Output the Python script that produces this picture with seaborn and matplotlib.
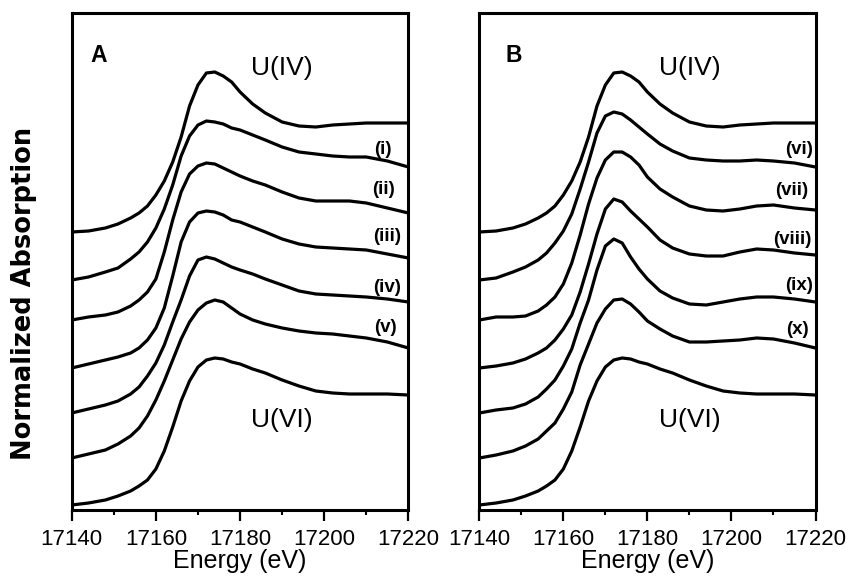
import numpy as np
import pandas as pd
import matplotlib
matplotlib.use("Agg")
import matplotlib.pyplot as plt
import seaborn as sns
from matplotlib.ticker import MultipleLocator

# ---------------- data ----------------
energy = [17140, 17144, 17148, 17151, 17154, 17156, 17158, 17160, 17162, 17164,
          17166, 17168, 17170, 17172, 17174, 17176, 17178, 17180, 17183, 17186,
          17190, 17194, 17198, 17202, 17206, 17210, 17215, 17220]

# stacked normalized spectra (vertical offset included), arbitrary units
u_iv = [2.78, 2.79, 2.82, 2.86, 2.92, 2.97, 3.04, 3.15, 3.29, 3.48, 3.73, 4.04, 4.25, 4.37,
        4.38, 4.34, 4.28, 4.18, 4.06, 3.97, 3.88, 3.84, 3.83, 3.85, 3.86, 3.87, 3.87, 3.87]
u_vi = [0.05, 0.07, 0.10, 0.14, 0.19, 0.24, 0.30, 0.41, 0.59, 0.83, 1.09, 1.29, 1.43, 1.50,
        1.52, 1.51, 1.48, 1.46, 1.41, 1.37, 1.30, 1.24, 1.19, 1.17, 1.16, 1.16, 1.16, 1.15]

s_i = [2.30, 2.33, 2.38, 2.42, 2.51, 2.58, 2.68, 2.82, 3.01, 3.25, 3.54, 3.74, 3.85, 3.89,
       3.88, 3.86, 3.82, 3.80, 3.75, 3.70, 3.63, 3.58, 3.56, 3.54, 3.53, 3.53, 3.49, 3.43]
s_ii = [1.90, 1.93, 1.95, 1.98, 2.04, 2.10, 2.18, 2.31, 2.58, 2.90, 3.18, 3.36, 3.44, 3.47,
        3.46, 3.42, 3.38, 3.34, 3.29, 3.25, 3.18, 3.12, 3.09, 3.09, 3.09, 3.07, 3.02, 2.97]
s_iii = [1.42, 1.46, 1.50, 1.53, 1.57, 1.62, 1.70, 1.82, 2.02, 2.34, 2.68, 2.88, 2.97, 2.99,
         2.98, 2.95, 2.90, 2.88, 2.83, 2.78, 2.71, 2.66, 2.63, 2.62, 2.61, 2.60, 2.56, 2.52]
s_iv = [0.97, 1.01, 1.05, 1.09, 1.16, 1.23, 1.34, 1.47, 1.65, 1.88, 2.10, 2.34, 2.50, 2.53,
        2.51, 2.47, 2.43, 2.40, 2.36, 2.31, 2.25, 2.19, 2.16, 2.15, 2.14, 2.13, 2.11, 2.08]
s_v = [0.52, 0.56, 0.60, 0.66, 0.74, 0.82, 0.94, 1.10, 1.29, 1.50, 1.71, 1.88, 2.00, 2.07,
       2.10, 2.08, 2.02, 1.96, 1.90, 1.86, 1.82, 1.79, 1.77, 1.76, 1.74, 1.72, 1.68, 1.62]

s_vi = [2.30, 2.32, 2.38, 2.43, 2.50, 2.57, 2.67, 2.79, 2.96, 3.21, 3.48, 3.77, 3.94, 3.98,
        3.96, 3.90, 3.83, 3.76, 3.66, 3.59, 3.52, 3.50, 3.49, 3.49, 3.50, 3.49, 3.47, 3.43]
s_vii = [1.90, 1.93, 1.93, 1.94, 1.99, 2.05, 2.13, 2.26, 2.47, 2.75, 3.06, 3.32, 3.50, 3.58,
         3.58, 3.53, 3.45, 3.33, 3.21, 3.13, 3.04, 3.00, 2.99, 3.01, 3.04, 3.05, 3.02, 3.00]
s_viii = [1.42, 1.44, 1.47, 1.51, 1.57, 1.62, 1.70, 1.81, 1.95, 2.18, 2.46, 2.76, 3.01, 3.11,
          3.08, 2.99, 2.91, 2.83, 2.70, 2.62, 2.56, 2.54, 2.54, 2.58, 2.61, 2.60, 2.57, 2.55]
s_ix = [0.97, 1.00, 1.02, 1.06, 1.13, 1.21, 1.30, 1.44, 1.61, 1.87, 2.10, 2.40, 2.64, 2.71,
        2.67, 2.53, 2.41, 2.31, 2.19, 2.12, 2.06, 2.05, 2.08, 2.11, 2.13, 2.13, 2.11, 2.08]
s_x = [0.52, 0.55, 0.59, 0.64, 0.71, 0.79, 0.87, 1.01, 1.18, 1.45, 1.66, 1.87, 2.01, 2.10,
       2.11, 2.06, 1.98, 1.89, 1.81, 1.74, 1.68, 1.68, 1.69, 1.70, 1.72, 1.71, 1.67, 1.62]

panel_a_names = ["U(IV)", "(i)", "(ii)", "(iii)", "(iv)", "(v)", "U(VI)"]
panel_b_names = ["U(IV)", "(vi)", "(vii)", "(viii)", "(ix)", "(x)", "U(VI)"]
panel_a_series = [u_iv, s_i, s_ii, s_iii, s_iv, s_v, u_vi]
panel_b_series = [u_iv, s_vi, s_vii, s_viii, s_ix, s_x, u_vi]

xticks = [17140, 17160, 17180, 17200, 17220]


def long_frame(names, series):
    rows = []
    for n, s in zip(names, series):
        for e, v in zip(energy, s):
            rows.append({"energy": e, "absorption": v, "spectrum": n})
    return pd.DataFrame(rows)


# ---------------- style ----------------
sns.set_style("ticks")
plt.rcParams["font.family"] = ["Liberation Sans", "DejaVu Sans"]
plt.rcParams["text.color"] = "black"
plt.rcParams["axes.labelcolor"] = "black"
plt.rcParams["xtick.color"] = "black"
plt.rcParams["ytick.color"] = "black"

fig = plt.figure(figsize=(8.5, 5.8), dpi=100)
W, H = 850.0, 580.0
bottom_px, top_px = 510.0, 12.7
axA = fig.add_axes([71.7 / W, (H - bottom_px) / H, (408.4 - 71.7) / W, (bottom_px - top_px) / H])
axB = fig.add_axes([479.3 / W, (H - bottom_px) / H, (815.5 - 479.3) / W, (bottom_px - top_px) / H])

for ax, names, series in [(axA, panel_a_names, panel_a_series),
                          (axB, panel_b_names, panel_b_series)]:
    df = long_frame(names, series)
    sns.lineplot(data=df, x="energy", y="absorption", units="spectrum",
                 estimator=None, color="black", linewidth=2.3, ax=ax,
                 legend=False, sort=False, solid_joinstyle="round",
                 solid_capstyle="round")
    ax.set_xlim(17140, 17220)
    ax.set_ylim(0, 4.973)
    ax.set_xticks(xticks)
    ax.set_xticklabels([str(t) for t in xticks])
    ax.xaxis.set_minor_locator(MultipleLocator(10))
    ax.set_yticks([])
    ax.set_ylabel("")
    ax.set_xlabel("Energy (eV)", fontsize=18, labelpad=-1)
    ax.tick_params(axis="x", which="major", direction="out", length=8, width=1.6,
                   labelsize=16, pad=6)
    ax.tick_params(axis="x", which="minor", direction="out", length=3.8, width=1.5)
    for sp in ax.spines.values():
        sp.set_visible(True)
        sp.set_linewidth(2.2)
        sp.set_color("black")

# panel letters and labels
axA.text(17146.3, 4.55, "A", fontsize=16.5, fontweight="bold", ha="center", va="center")
axB.text(17148.1, 4.55, "B", fontsize=16.5, fontweight="bold", ha="center", va="center")
for ax in (axA, axB):
    ax.text(17190, 4.42, "U(IV)", fontsize=19, ha="center", va="center")
    ax.text(17190, 0.90, "U(VI)", fontsize=19, ha="center", va="center")

labA = [("(i)", 17214.0, 3.60), ("(ii)", 17214.2, 3.20), ("(iii)", 17214.9, 2.73),
        ("(iv)", 17214.9, 2.23), ("(v)", 17214.5, 1.83)]
labB = [("(vi)", 17216.1, 3.60), ("(vii)", 17214.4, 3.19), ("(viii)", 17214.4, 2.70),
        ("(ix)", 17216.1, 2.24), ("(x)", 17215.6, 1.80)]
for ax, labs in [(axA, labA), (axB, labB)]:
    for t, x, y in labs:
        ax.text(x, y, t, fontsize=13.5, fontweight="bold", ha="center", va="center")

fig.text(24 / W, 1 - 293 / H, "Normalized Absorption", rotation=90, fontsize=18.5,
         fontweight="bold", ha="center", va="center", family=["DejaVu Sans"])

fig.savefig("out.png", dpi=100)
